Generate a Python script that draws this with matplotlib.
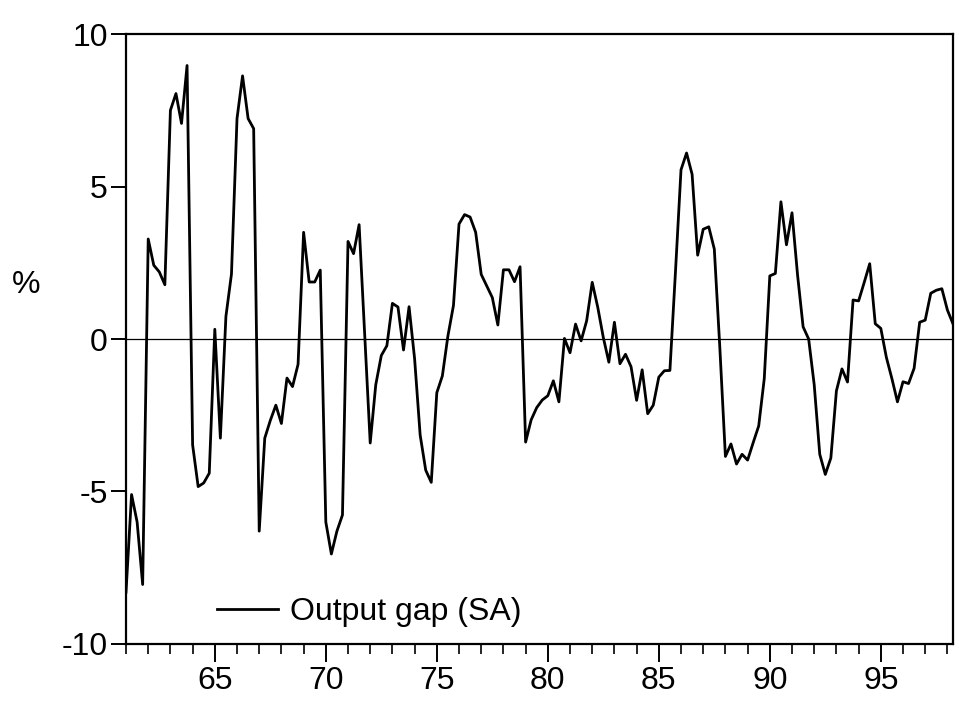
import numpy as np
import matplotlib
matplotlib.use("Agg")
import matplotlib.pyplot as plt
from matplotlib.ticker import MultipleLocator, FixedLocator

plt.rcParams['font.family'] = ['Liberation Sans', 'DejaVu Sans']

# quarterly output gap, 1961Q1 .. 1998Q2
gap = [
    -8.3, -5.1, -6.0, -8.05,                 # 1961
    3.28, 2.42, 2.2, 1.78,                   # 1962
    7.5, 8.05, 7.07, 8.97,                   # 1963
    -3.47, -4.84, -4.72, -4.4,               # 1964
    0.32, -3.25, 0.74, 2.13,                 # 1965
    7.23, 8.63, 7.23, 6.9,                   # 1966
    -6.3, -3.25, -2.67, -2.17,               # 1967
    -2.77, -1.28, -1.56, -0.83,              # 1968
    3.5, 1.87, 1.87, 2.26,                   # 1969
    -6.0, -7.05, -6.3, -5.77,                # 1970
    3.2, 2.8, 3.75, 0.2,                     # 1971
    -3.41, -1.5, -0.54, -0.22,               # 1972
    1.17, 1.05, -0.36, 1.06,                 # 1973
    -0.65, -3.15, -4.3, -4.7,                # 1974
    -1.76, -1.21, 0.1, 1.1,                  # 1975
    3.77, 4.08, 4.0, 3.5,                    # 1976
    2.12, 1.74, 1.36, 0.46,                  # 1977
    2.27, 2.27, 1.88, 2.37,                  # 1978
    -3.38, -2.65, -2.25, -2.0,               # 1979
    -1.86, -1.37, -2.06, 0.02,               # 1980
    -0.45, 0.49, -0.06, 0.6,                 # 1981
    1.86, 1.04, 0.05, -0.76,                 # 1982
    0.55, -0.81, -0.5, -0.91,                # 1983
    -2.01, -1.01, -2.45, -2.17,              # 1984
    -1.25, -1.04, -1.03, 2.2,                # 1985
    5.55, 6.1, 5.4, 2.75,                    # 1986
    3.6, 3.68, 2.95, -0.3,                   # 1987
    -3.85, -3.44, -4.1, -3.78,               # 1988
    -3.97, -3.4, -2.85, -1.3,                # 1989
    2.07, 2.15, 4.5, 3.09,                   # 1990
    4.14, 2.1, 0.4, 0.0,                     # 1991
    -1.5, -3.78, -4.44, -3.9,                # 1992
    -1.7, -0.98, -1.41, 1.28,                # 1993
    1.25, 1.85, 2.47, 0.5,                   # 1994
    0.35, -0.6, -1.3, -2.06,                 # 1995
    -1.4, -1.46, -0.96, 0.55,                # 1996
    0.62, 1.5, 1.6, 1.65,                    # 1997
    0.95, 0.5,                               # 1998
]
t = 1961 + np.arange(len(gap)) / 4.0

year_ticks = [65, 70, 75, 80, 85, 90, 95]
y_ticks = [-10, -5, 0, 5, 10]

fig = plt.figure(figsize=(9.59, 7.10), dpi=100)
ax = fig.add_axes([0.1314, 0.093, 0.8623, 0.859])

ax.plot(t, gap, color='black', lw=2.0, label='Output gap (SA)')
ax.axhline(0, color='black', lw=0.9)

ax.set_xlim(t[0], t[-1])
ax.set_ylim(-10, 10)

ax.xaxis.set_major_locator(FixedLocator([1900 + y for y in year_ticks]))
ax.set_xticklabels([str(y) for y in year_ticks])
ax.xaxis.set_minor_locator(MultipleLocator(1))
ax.set_yticks(y_ticks)
ax.set_yticklabels([str(v) for v in y_ticks])

ax.tick_params(axis='x', which='major', direction='out', length=13, width=1.4,
               labelsize=23, pad=3)
ax.tick_params(axis='x', which='minor', direction='out', length=7, width=1.2)
ax.tick_params(axis='y', which='major', direction='out', length=11, width=1.4,
               labelsize=23, pad=2)
for s in ax.spines.values():
    s.set_linewidth(1.6)

fig.text(0.012, 0.598, '%', fontsize=23, ha='left', va='center')

ax.legend(loc='center left', bbox_to_anchor=(0.110, 0.052), frameon=False,
          fontsize=23, handlelength=1.9, handletextpad=0.4,
          borderpad=0, borderaxespad=0)

fig.savefig('out.png', dpi=100)
